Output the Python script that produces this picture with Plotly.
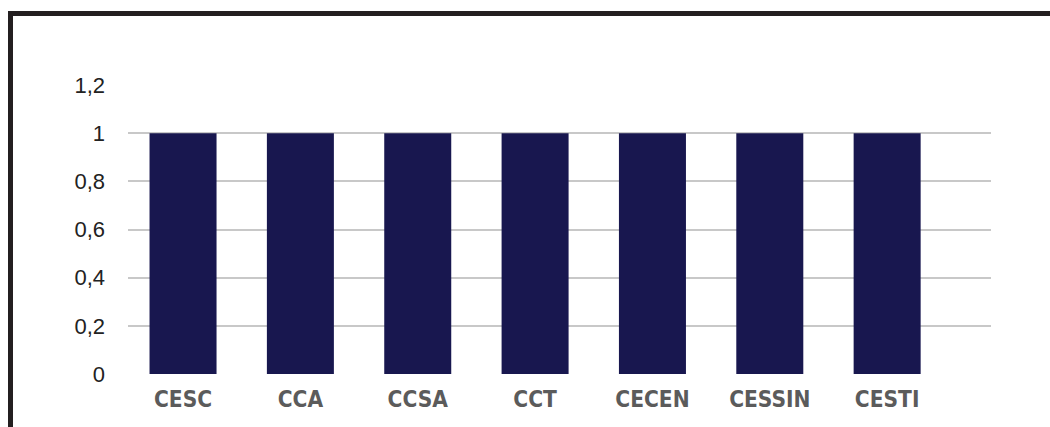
import plotly.graph_objects as go

# Centres and their values
categories = ["CESC", "CCA", "CCSA", "CCT", "CECEN", "CESSIN", "CESTI"]
values = [1, 1, 1, 1, 1, 1, 1]
y_ticks = [0, 0.2, 0.4, 0.6, 0.8, 1, 1.2]
y_tick_labels = ["0", "0,2", "0,4", "0,6", "0,8", "1", "1,2"]

BAR_COLOR = "#18174f"
FRAME_COLOR = "#231f20"
GRID_COLOR = "#c8c8c8"

W, H = 1050, 427
L, R, T, B = 128, 59, 85, 53
pw, ph = W - L - R, H - T - B


def px_x(p):
    return (p - L) / pw


def px_y(p):
    return (H - B - p) / ph


fig = go.Figure(
    go.Bar(
        x=list(range(len(categories))),
        y=values,
        width=0.571,
        marker=dict(color=BAR_COLOR, line=dict(width=0)),
        hoverinfo="skip",
    )
)

fig.update_layout(
    width=W,
    height=H,
    margin=dict(l=L, r=R, t=T, b=B, pad=0),
    paper_bgcolor="white",
    plot_bgcolor="white",
    showlegend=False,
    xaxis=dict(
        range=[-0.469, 6.885],
        tickmode="array",
        tickvals=list(range(len(categories))),
        ticktext=categories,
        showgrid=False,
        zeroline=False,
        showline=False,
        ticks="",
        ticklabelstandoff=9,
        tickfont=dict(family="DejaVu Sans Condensed, Liberation Sans Narrow, sans-serif",
                      size=22.5, color="#5b5b5b", weight="bold"),
    ),
    yaxis=dict(
        range=[0, 1.2],
        tickmode="array",
        tickvals=y_ticks,
        ticktext=y_tick_labels,
        showgrid=True,
        gridcolor=GRID_COLOR,
        gridwidth=1.5,
        zeroline=False,
        showline=False,
        ticks="",
        ticklabelstandoff=22,
        tickfont=dict(family="Liberation Sans, Arial, sans-serif", size=22, color="#222222"),
    ),
    shapes=[
        # top frame bar
        dict(type="rect", xref="paper", yref="paper",
             x0=px_x(8), x1=px_x(1060), y0=px_y(16), y1=px_y(11),
             fillcolor=FRAME_COLOR, line=dict(width=0), layer="above"),
        # left frame bar
        dict(type="rect", xref="paper", yref="paper",
             x0=px_x(8), x1=px_x(13), y0=px_y(440), y1=px_y(11),
             fillcolor=FRAME_COLOR, line=dict(width=0), layer="above"),
    ],
)

fig.write_html("out.html")
